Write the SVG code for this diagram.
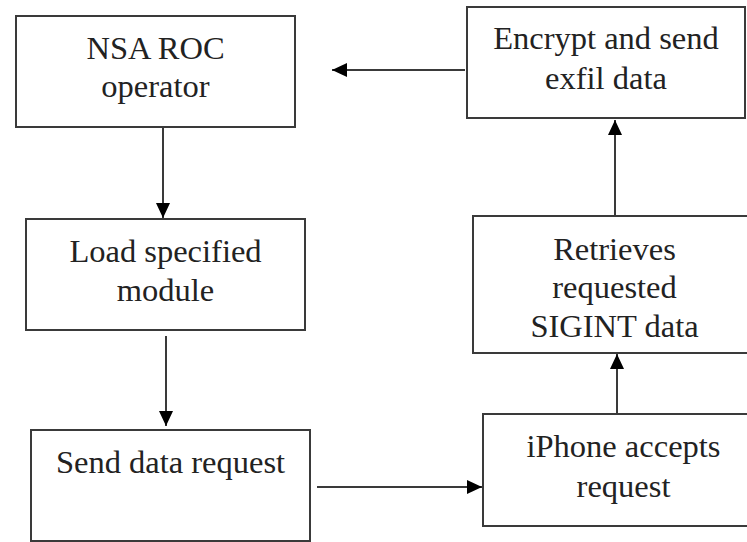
<svg xmlns="http://www.w3.org/2000/svg" width="747" height="542" viewBox="0 0 747 542">
<style>
.box{fill:#fff;stroke:#3a3a3a;stroke-width:2}
.t{font-family:"Liberation Serif","Times New Roman",serif;font-size:32.5px;fill:#222;text-anchor:middle}
.c{stroke:#3a3a3a;stroke-width:2;fill:none;marker-end:url(#ah)}
</style>
<defs>
<marker id="ah" markerUnits="userSpaceOnUse" markerWidth="16" markerHeight="16" viewBox="0 0 16 16" refX="15" refY="8" orient="auto">
<path d="M0,1 L15,8 L0,15 Z" fill="#000"/>
</marker>
</defs>
<rect width="747" height="542" fill="#fff"/>
<g id="connectors">
<line class="c" x1="163" y1="127" x2="163" y2="218"/>
<line class="c" x1="166" y1="336" x2="166" y2="426"/>
<line class="c" x1="317" y1="487" x2="482" y2="487"/>
<line class="c" x1="617" y1="414" x2="617" y2="354"/>
<line class="c" x1="615" y1="216" x2="615" y2="120"/>
<line class="c" x1="465" y1="70" x2="332" y2="70"/>
</g>
<g id="n1"><rect class="box" x="16" y="16" width="279" height="111"/>
<text class="t" x="155.5" y="59">NSA ROC</text><text class="t" x="155.5" y="97">operator</text></g>
<g id="n2"><rect class="box" x="467" y="7" width="278" height="111"/>
<text class="t" x="606" y="49">Encrypt and send</text><text class="t" x="606" y="89">exfil data</text></g>
<g id="n3"><rect class="box" x="26" y="219" width="279" height="111"/>
<text class="t" x="165.5" y="262">Load specified</text><text class="t" x="165.5" y="301">module</text></g>
<g id="n4"><rect class="box" x="473" y="216" width="283" height="137"/>
<text class="t" x="614.5" y="260">Retrieves</text><text class="t" x="614.5" y="298">requested</text><text class="t" x="614.5" y="337">SIGINT data</text></g>
<g id="n5"><rect class="box" x="31" y="430" width="279" height="111"/>
<text class="t" x="170.5" y="473">Send data request</text></g>
<g id="n6"><rect class="box" x="483" y="414" width="281" height="112"/>
<text class="t" x="623.5" y="457">iPhone accepts</text><text class="t" x="623.5" y="497">request</text></g>
</svg>
